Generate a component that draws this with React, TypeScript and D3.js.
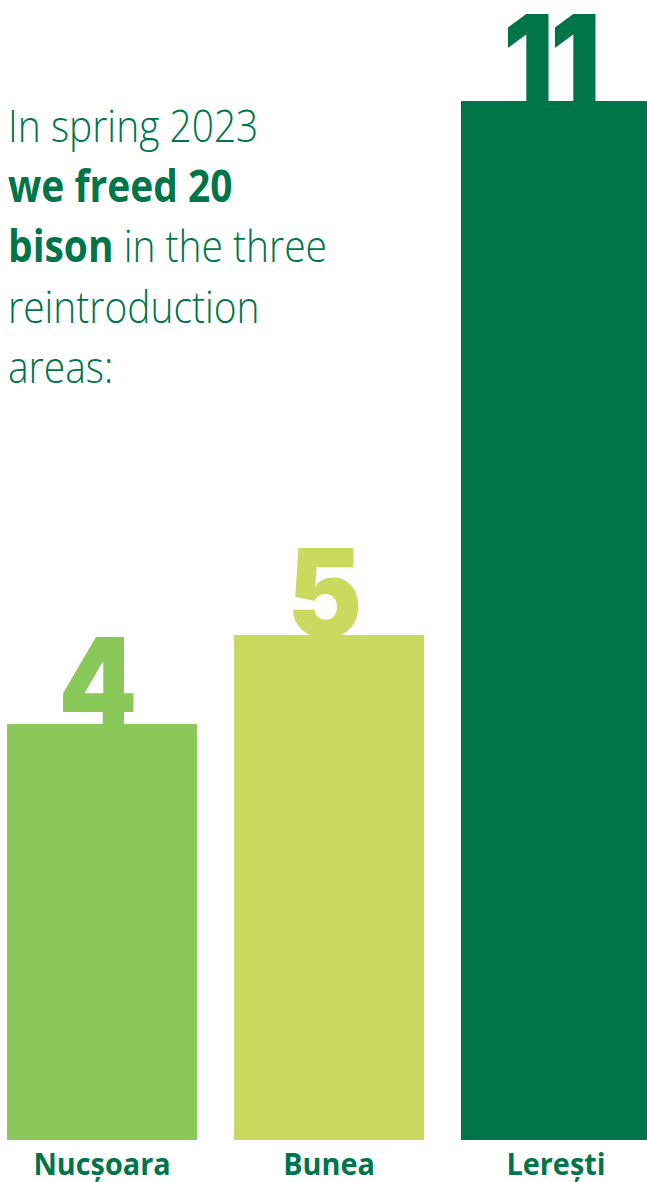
import React from "react";
import * as d3 from "d3";

const categories = ["Nucșoara", "Bunea", "Lerești"];
const values = [4, 5, 11];
const colors = ["#8BC85A", "#C9DA5E", "#00754A"];
const introLines: { text: string; bold: boolean }[][] = [
  [{ text: "In spring 2023", bold: false }],
  [{ text: "we freed 20", bold: true }],
  [{ text: "bison", bold: true }, { text: " in the three", bold: false }],
  [{ text: "reintroduction", bold: false }],
  [{ text: "areas:", bold: false }],
];

const W = 647;
const H = 1182;
const DARK = "#00754A";

export default function App() {
  const x = d3.scaleBand<string>().domain(categories).range([7, 651]).paddingInner(0.163).paddingOuter(0);
  const y = d3.scaleLinear().domain([-0.674, 11]).range([1140, 101]);
  return (
    <svg width={W} height={H} style={{ position: "absolute", left: 0, top: 0, background: "#fff" }}>
      {categories.map((c, i) => {
        const cx = (x(c) as number) + x.bandwidth() / 2;
        return (
          <g key={c}>
            <rect x={x(c)} y={y(values[i])} width={x.bandwidth()} height={y(-0.674) - y(values[i])} fill={colors[i]} />
            <g transform={`translate(${cx - 6},${y(values[i]) + 2}) scale(0.92,1)`}>
              <text
                textAnchor="middle"
                fontFamily="Inter"
                fontWeight={900}
                fontSize={122}
                letterSpacing={-4}
                fill={colors[i]}
              >
                {values[i]}
              </text>
            </g>
            <g transform={`translate(${cx},1175) scale(0.93,1)`}>
              <text textAnchor="middle" fontFamily="Open Sans" fontWeight={700} fontSize={31} fill={DARK}>
                {c}
              </text>
            </g>
          </g>
        );
      })}
      <g transform="translate(8,0) scale(0.885,1)">
        {introLines.map((line, i) => (
          <text key={i} x={0} y={142 + i * 60.2} fontFamily="Open Sans" fontSize={44} fill={DARK}>
            {line.map((s, j) => (
              <tspan key={j} fontWeight={s.bold ? 700 : 300}>
                {s.text}
              </tspan>
            ))}
          </text>
        ))}
      </g>
    </svg>
  );
}
